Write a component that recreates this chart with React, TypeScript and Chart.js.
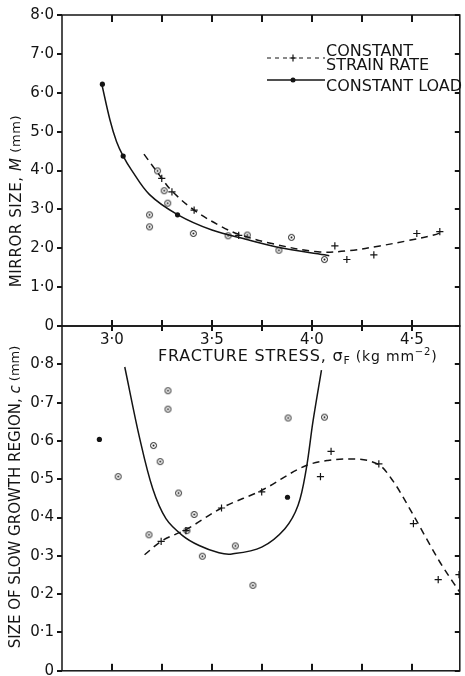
import React, { useEffect, useRef } from 'react';
import { Chart, registerables } from 'chart.js';

Chart.register(...registerables);

const FONT = '"DejaVu Sans", "Liberation Sans", sans-serif';
const INK = '#141414';

// ---- shared x axis: fracture stress (kg mm^-2)
const xMin = 2.75;
const xMax = 4.74;
const xTicks = [3.0, 3.25, 3.5, 3.75, 4.0, 4.25, 4.5];
const xLabelled = [3.0, 3.5, 4.0, 4.5];

// ---- top panel: mirror size M (mm)
const mirrorMin = 0;
const mirrorMax = 8;
const mirrorTicks = [0, 1, 2, 3, 4, 5, 6, 7, 8];
const mirrorLoadCurve: [number, number][] = [
  [2.95, 6.2], [2.99, 5.3], [3.023, 4.74], [3.056, 4.37], [3.098, 4.01], [3.188, 3.38],
  [3.33, 2.86], [3.5, 2.47], [3.68, 2.22], [3.835, 2.02], [4.063, 1.83], [4.087, 1.81],
];
const mirrorRateCurve: [number, number][] = [
  [3.16, 4.42], [3.249, 3.8], [3.3, 3.47], [3.411, 2.98], [3.55, 2.55], [3.634, 2.36],
  [3.8, 2.12], [4.03, 1.91], [4.19, 1.94], [4.34, 2.06], [4.475, 2.19], [4.61, 2.34], [4.657, 2.43],
];
const mirrorLoadFilled: [number, number][] = [[2.952, 6.22], [3.056, 4.37], [3.328, 2.86]];
const mirrorCircled: [number, number][] = [
  [3.228, 3.99], [3.261, 3.48], [3.279, 3.16], [3.188, 2.86], [3.188, 2.55], [3.407, 2.38],
  [3.581, 2.32], [3.677, 2.34], [3.898, 2.28], [3.835, 1.95], [4.063, 1.71],
];
const mirrorCrosses: [number, number][] = [
  [3.249, 3.8], [3.3, 3.45], [3.411, 2.98], [3.634, 2.33], [4.115, 2.06], [4.175, 1.71],
  [4.31, 1.83], [4.525, 2.38], [4.64, 2.43],
];

// ---- bottom panel: size of slow growth region c (mm)
const slowMin = 0;
const slowMax = 0.9;
const slowTicks = [0, 0.1, 0.2, 0.3, 0.4, 0.5, 0.6, 0.7, 0.8];
const slowLoadCurve: [number, number][] = [
  [3.064, 0.793], [3.139, 0.606], [3.204, 0.475], [3.27, 0.397], [3.353, 0.353], [3.436, 0.327],
  [3.535, 0.308], [3.6, 0.305], [3.749, 0.323], [3.865, 0.371], [3.931, 0.432], [3.972, 0.527],
  [4.005, 0.649], [4.048, 0.785],
];
const slowRateCurve: [number, number][] = [
  [3.163, 0.303], [3.246, 0.338], [3.375, 0.37], [3.548, 0.425], [3.749, 0.471], [3.972, 0.536],
  [4.08, 0.549], [4.178, 0.553], [4.335, 0.538], [4.409, 0.493], [4.508, 0.406], [4.64, 0.284],
  [4.74, 0.205],
];
const slowFilled: [number, number][] = [[2.937, 0.604], [3.878, 0.453]];
const slowCircled: [number, number][] = [
  [3.031, 0.507], [3.28, 0.731], [3.28, 0.683], [3.208, 0.588], [3.241, 0.546], [3.333, 0.464],
  [3.411, 0.408], [3.185, 0.355], [3.375, 0.366], [3.452, 0.299], [3.617, 0.326], [3.705, 0.223],
  [3.881, 0.66], [4.063, 0.662],
];
const slowCrosses: [number, number][] = [
  [3.246, 0.338], [3.37, 0.366], [3.548, 0.425], [3.749, 0.467], [4.043, 0.507], [4.096, 0.573],
  [4.335, 0.54], [4.508, 0.384], [4.632, 0.238], [4.736, 0.251],
];

// ---- text
const legendRate = ['CONSTANT', 'STRAIN RATE'];
const legendLoad = 'CONSTANT LOAD';

// ---- layout
const W = 465;
const TOP_H = 372;
const BOT_TOP = 300;
const BOT_H = 376;
const PLOT_LEFT = 62;
const PLOT_RIGHT = 463;
const TOP_AREA_TOP = 15;
const TOP_AREA_BOTTOM = 326;
const BOT_AREA_BOTTOM = 672;

const pts = (a: [number, number][]) => a.map(([x, y]) => ({ x, y }));
const fmt = (v: number) => (v === 0 ? '0' : v.toFixed(1).replace('.', '\u00b7'));

type Part = { t: string; size: number; italic?: boolean; dy?: number };
function drawRich(ctx: CanvasRenderingContext2D, parts: Part[], x: number, y: number, rot: number, align: 'center' | 'left', spacing = 0) {
  ctx.save();
  ctx.translate(x, y);
  if (rot) ctx.rotate(rot);
  ctx.textBaseline = 'middle';
  ctx.textAlign = 'left';
  ctx.fillStyle = INK;
  (ctx as any).letterSpacing = spacing + 'px';
  const fontOf = (p: Part) => `${p.italic ? 'italic ' : ''}${p.size}px ${FONT}`;
  let total = 0;
  for (const p of parts) {
    ctx.font = fontOf(p);
    total += ctx.measureText(p.t).width;
  }
  let cur = align === 'center' ? -total / 2 : 0;
  for (const p of parts) {
    ctx.font = fontOf(p);
    ctx.fillText(p.t, cur, p.dy || 0);
    cur += ctx.measureText(p.t).width;
  }
  ctx.restore();
}

function makeCircleDot(): HTMLCanvasElement {
  const c = document.createElement('canvas');
  c.width = 9;
  c.height = 9;
  const g = c.getContext('2d')!;
  g.strokeStyle = INK;
  g.lineWidth = 1;
  g.beginPath();
  g.arc(4.5, 4.5, 3, 0, Math.PI * 2);
  g.stroke();
  g.fillStyle = INK;
  g.beginPath();
  g.arc(4.5, 4.5, 1, 0, Math.PI * 2);
  g.fill();
  return c;
}

type FrameCfg = { topIn: number; bottomIn: number; bottomOut: number; yTicks: number[] };
function makeFramePlugin(cfg: FrameCfg) {
  return {
    id: 'frameTicks',
    afterDraw(chart: any) {
      const ctx: CanvasRenderingContext2D = chart.ctx;
      const a = chart.chartArea;
      const xs = chart.scales.x;
      const ys = chart.scales.y;
      ctx.save();
      ctx.setLineDash([]);
      ctx.strokeStyle = INK;
      ctx.lineWidth = 1.5;
      ctx.strokeRect(a.left, a.top, a.right - a.left, a.bottom - a.top);
      ctx.fillStyle = INK;
      xTicks.forEach((v) => {
        const px = Math.round(xs.getPixelForValue(v));
        if (cfg.topIn > 0) ctx.fillRect(px - 1, a.top, 2, cfg.topIn);
        if (cfg.bottomIn + cfg.bottomOut > 0) ctx.fillRect(px - 1, a.bottom - cfg.bottomIn, 2, cfg.bottomIn + cfg.bottomOut);
      });
      cfg.yTicks.forEach((v) => {
        const py = Math.round(ys.getPixelForValue(v));
        ctx.fillRect(a.left - 5, py - 1, 5, 2);
        ctx.fillRect(a.right - 5, py - 1, 5, 2);
      });
      ctx.restore();
    },
  };
}

const topTextPlugin = {
  id: 'topText',
  afterDraw(chart: any) {
    const ctx: CanvasRenderingContext2D = chart.ctx;
    drawRich(ctx, [
      { t: 'MIRROR SIZE, ', size: 15 },
      { t: 'M', size: 15, italic: true },
      { t: ' (mm)', size: 13 },
    ], 17, 201, -Math.PI / 2, 'center', 0.6);
    drawRich(ctx, [
      { t: 'FRACTURE STRESS, \u03c3', size: 16 },
      { t: 'F', size: 11, dy: 4 },
      { t: ' (kg mm', size: 14 },
      { t: '\u22122', size: 10, dy: -5 },
      { t: ')', size: 14 },
    ], 158, 357, 0, 'left', 0.8);
    ctx.save();
    ctx.strokeStyle = INK;
    ctx.fillStyle = INK;
    ctx.lineWidth = 1.2;
    ctx.setLineDash([4, 4]);
    ctx.beginPath();
    ctx.moveTo(267, 58);
    ctx.lineTo(325, 58);
    ctx.stroke();
    ctx.setLineDash([]);
    ctx.beginPath();
    ctx.moveTo(293, 54.5);
    ctx.lineTo(293, 61.5);
    ctx.moveTo(289.5, 58);
    ctx.lineTo(296.5, 58);
    ctx.stroke();
    ctx.lineWidth = 1.5;
    ctx.beginPath();
    ctx.moveTo(267, 80);
    ctx.lineTo(325, 80);
    ctx.stroke();
    ctx.beginPath();
    ctx.arc(293, 80, 2.5, 0, Math.PI * 2);
    ctx.fill();
    ctx.restore();
    drawRich(ctx, [{ t: legendRate[0], size: 16 }], 326, 52, 0, 'left');
    drawRich(ctx, [{ t: legendRate[1], size: 16 }], 326, 65.5, 0, 'left');
    drawRich(ctx, [{ t: legendLoad, size: 16 }], 326, 86.5, 0, 'left');
  },
};

const botTextPlugin = {
  id: 'botText',
  afterDraw(chart: any) {
    const ctx: CanvasRenderingContext2D = chart.ctx;
    drawRich(ctx, [
      { t: 'SIZE OF SLOW GROWTH REGION, ', size: 15 },
      { t: 'c', size: 15, italic: true },
      { t: ' (mm)', size: 13 },
    ], 16, 497 - BOT_TOP, -Math.PI / 2, 'center');
  },
};

function curve(data: [number, number][], dashed: boolean, monotone = false) {
  return {
    type: 'scatter' as const,
    data: pts(data),
    showLine: true,
    borderColor: INK,
    borderWidth: 1.5,
    borderDash: dashed ? [7, 5] : [],
    pointRadius: 0,
    pointHoverRadius: 0,
    tension: 0.35,
    cubicInterpolationMode: monotone ? ('monotone' as const) : ('default' as const),
    fill: false,
  };
}

function marks(data: [number, number][], kind: 'cross' | 'filled' | 'circled', dot: HTMLCanvasElement) {
  const base: any = { type: 'scatter', data: pts(data), showLine: false, borderColor: INK, backgroundColor: INK };
  if (kind === 'cross') return { ...base, pointStyle: 'cross', pointRadius: 3.6, borderWidth: 1.2 };
  if (kind === 'filled') return { ...base, pointStyle: 'circle', pointRadius: 2.6, borderWidth: 0 };
  return { ...base, pointStyle: dot, pointRadius: 3, borderWidth: 0 };
}

function xScale(height: number, showLabels: boolean) {
  return {
    type: 'linear' as const,
    min: xMin,
    max: xMax,
    afterBuildTicks: (s: any) => {
      s.ticks = xTicks.map((v) => ({ value: v }));
    },
    afterFit: (s: any) => {
      s.height = height;
      s.paddingLeft = 0;
      s.paddingRight = 0;
    },
    grid: { display: false, drawTicks: false },
    border: { display: false },
    ticks: {
      display: showLabels,
      autoSkip: false,
      maxRotation: 0,
      padding: 5,
      color: INK,
      font: { family: FONT, size: 15 },
      callback: (v: any) => (xLabelled.includes(v) ? fmt(v) : ''),
    },
  };
}

function yScale(min: number, max: number, ticks: number[]) {
  return {
    type: 'linear' as const,
    min,
    max,
    afterBuildTicks: (s: any) => {
      s.ticks = ticks.map((v) => ({ value: v }));
    },
    afterFit: (s: any) => {
      s.width = PLOT_LEFT;
      s.paddingTop = 0;
      s.paddingBottom = 0;
    },
    grid: { display: false, drawTicks: false },
    border: { display: false },
    ticks: {
      autoSkip: false,
      padding: 8,
      color: INK,
      font: { family: FONT, size: 15 },
      callback: (v: any) => fmt(v),
    },
  };
}

export default function App() {
  const topRef = useRef<HTMLCanvasElement>(null);
  const botRef = useRef<HTMLCanvasElement>(null);

  useEffect(() => {
    Chart.defaults.font.family = FONT;
    const dot = makeCircleDot();
    const common = {
      responsive: true,
      maintainAspectRatio: false,
      animation: false as const,
      events: [] as any[],
    };
    const top = new Chart(topRef.current!, {
      type: 'scatter',
      data: {
        datasets: [
          curve(mirrorLoadCurve, false),
          curve(mirrorRateCurve, true),
          marks(mirrorCircled, 'circled', dot),
          marks(mirrorLoadFilled, 'filled', dot),
          marks(mirrorCrosses, 'cross', dot),
        ] as any,
      },
      options: {
        ...common,
        layout: { padding: { top: TOP_AREA_TOP, right: W - PLOT_RIGHT, left: 0, bottom: 0 } },
        scales: {
          x: xScale(TOP_H - TOP_AREA_BOTTOM, true),
          y: yScale(mirrorMin, mirrorMax, mirrorTicks),
        } as any,
        plugins: { legend: { display: false }, tooltip: { enabled: false } },
      },
      plugins: [makeFramePlugin({ topIn: 7, bottomIn: 6, bottomOut: 5, yTicks: mirrorTicks }), topTextPlugin],
    });
    const bot = new Chart(botRef.current!, {
      type: 'scatter',
      data: {
        datasets: [
          curve(slowLoadCurve, false),
          curve(slowRateCurve, true, true),
          marks(slowCircled, 'circled', dot),
          marks(slowFilled, 'filled', dot),
          marks(slowCrosses, 'cross', dot),
        ] as any,
      },
      options: {
        ...common,
        layout: { padding: { top: TOP_AREA_BOTTOM - BOT_TOP, right: W - PLOT_RIGHT, left: 0, bottom: 0 } },
        scales: {
          x: xScale(BOT_H - (TOP_AREA_BOTTOM - BOT_TOP) - (BOT_AREA_BOTTOM - TOP_AREA_BOTTOM), false),
          y: yScale(slowMin, slowMax, slowTicks),
        } as any,
        plugins: { legend: { display: false }, tooltip: { enabled: false } },
      },
      plugins: [makeFramePlugin({ topIn: 0, bottomIn: 7, bottomOut: 0, yTicks: slowTicks }), botTextPlugin],
    });
    return () => {
      top.destroy();
      bot.destroy();
    };
  }, []);

  return (
    <div style={{ position: 'absolute', left: 0, top: 0, width: W, height: 676, background: '#fff', overflow: 'hidden' }}>
      <div style={{ position: 'absolute', left: 0, top: BOT_TOP, width: W, height: BOT_H }}>
        <canvas ref={botRef} />
      </div>
      <div style={{ position: 'absolute', left: 0, top: 0, width: W, height: TOP_H }}>
        <canvas ref={topRef} />
      </div>
    </div>
  );
}
